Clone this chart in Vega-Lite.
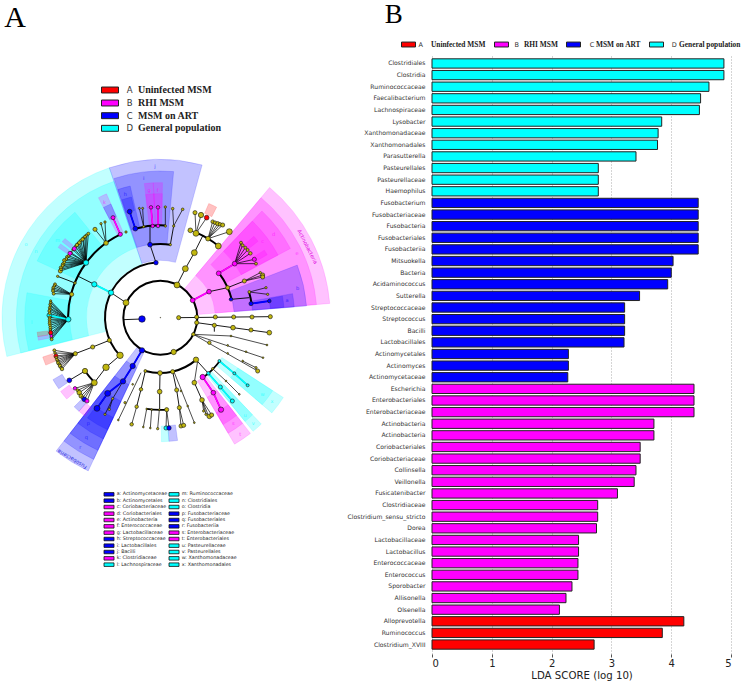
{
"$schema":"https://vega.github.io/schema/vega-lite/v6.json",
"padding":0,"background":"white",
"bounds":"flush","spacing":0,
"config":{"view":{"stroke":null},"concat":{"spacing":0}},
"resolve":{"scale":{"color":"independent","x":"independent","y":"independent"},"legend":{"color":"independent"}},
"datasets":{
"wedges":[
{"g":"D","t0":255.8,"t1":341.2,"r0":170,"r1":475},{"g":"D","t0":255.8,"t1":341.2,"r0":222,"r1":432},
{"g":"D","t0":256,"t1":280.6,"r0":272,"r1":407},{"g":"D","t0":294.7,"t1":321,"r0":275,"r1":407},
{"g":"C","t0":-18.8,"t1":15.3,"r0":172,"r1":475},{"g":"C","t0":-18.4,"t1":5.2,"r0":222,"r1":440},
{"g":"C","t0":-18.4,"t1":-12.9,"r0":277,"r1":405},{"g":"C","t0":-18,"t1":-13.5,"r0":331,"r1":372},
{"g":"B","t0":-6.8,"t1":-3,"r0":277,"r1":405},{"g":"B","t0":-3,"t1":0.9,"r0":277,"r1":405},
{"g":"B","t0":-6.8,"t1":-3,"r0":331,"r1":372},{"g":"B","t0":-3,"t1":0.9,"r0":331,"r1":372},
{"g":"B","t0":-27.3,"t1":-23.5,"r0":277,"r1":405},{"g":"C","t0":-27.3,"t1":-23.5,"r0":331,"r1":372},
{"g":"B","t0":40,"t1":85.2,"r0":112,"r1":510},{"g":"B","t0":40,"t1":85.2,"r0":165,"r1":470},
{"g":"B","t0":43.6,"t1":62,"r0":220,"r1":442},{"g":"B","t0":43.6,"t1":62,"r0":275,"r1":400},
{"g":"B","t0":49,"t1":52,"r0":331,"r1":372},{"g":"B","t0":57,"t1":59.5,"r0":331,"r1":372},
{"g":"C","t0":69,"t1":85.4,"r0":222,"r1":440},{"g":"C","t0":79.7,"t1":85.4,"r0":277,"r1":403},{"g":"C","t0":80,"t1":85.2,"r0":331,"r1":372},
{"g":"C","t0":205.2,"t1":218,"r0":112,"r1":508},{"g":"C","t0":205.2,"t1":218,"r0":165,"r1":470},{"g":"C","t0":205.2,"t1":218,"r0":222,"r1":440},{"g":"C","t0":205.2,"t1":218,"r0":277,"r1":402},{"g":"C","t0":205.2,"t1":216,"r0":331,"r1":372},
{"g":"B","t0":142.1,"t1":149.6,"r0":220,"r1":440},{"g":"B","t0":142.1,"t1":149.6,"r0":277,"r1":402},{"g":"B","t0":142.1,"t1":149.6,"r0":331,"r1":372},
{"g":"D","t0":136.5,"t1":140.8,"r0":220,"r1":440},{"g":"D","t0":136.5,"t1":140.8,"r0":277,"r1":402},
{"g":"D","t0":123,"t1":130.5,"r0":220,"r1":440},{"g":"D","t0":123,"t1":130.5,"r0":277,"r1":402},
{"g":"A","t0":23,"t1":27,"r0":340,"r1":372},{"g":"A","t0":247.5,"t1":251.5,"r0":340,"r1":372},
{"g":"C","t0":235,"t1":240,"r0":340,"r1":372},{"g":"B","t0":229,"t1":233.5,"r0":340,"r1":372},
{"g":"C","t0":221,"t1":224,"r0":340,"r1":372},{"g":"B","t0":217.5,"t1":221,"r0":340,"r1":372},
{"g":"C","t0":172,"t1":176,"r0":325,"r1":372},{"g":"D","t0":176,"t1":179.5,"r0":325,"r1":372},
{"g":"A","t0":261.2,"t1":263.3,"r0":340,"r1":372},{"g":"B","t0":259.5,"t1":261.2,"r0":340,"r1":372},
{"g":"B","t0":304.5,"t1":306.5,"r0":340,"r1":372},{"g":"B","t0":307.7,"t1":309.7,"r0":340,"r1":372}
],
"rings":[
{"t0":0,"t1":360,"r0":108,"r1":114},
{"t0":227.4,"t1":355.5,"r0":163,"r1":169},{"t0":139.7,"t1":195.7,"r0":163,"r1":169},
{"t0":-8,"t1":8,"r0":218,"r1":224},{"t0":52.8,"t1":75.5,"r0":218,"r1":224},{"t0":126.3,"t1":144.5,"r0":218,"r1":223},
{"t0":269,"t1":334.4,"r0":274,"r1":280},{"t0":-15.7,"t1":3.1,"r0":274,"r1":280},{"t0":22.9,"t1":39,"r0":274,"r1":280},
{"t0":225.4,"t1":234.7,"r0":274,"r1":280},{"t0":73.9,"t1":81.2,"r0":274,"r1":280},{"t0":176,"t1":188.5,"r0":274,"r1":279}
],
"edges":[
{"x":367,"y":746,"x2":423,"y2":744,"k":"mid","g":"N"},
{"x":330,"y":665,"x2":375,"y2":695,"k":"mid","g":"N"},
{"x":330,"y":665,"x2":280,"y2":640,"k":"thick","g":"D"},
{"x":280,"y":640,"x2":232,"y2":616,"k":"mid","g":"N"},
{"x":222,"y":636,"x2":170,"y2":616,"k":"mid","g":"N"},
{"x":202,"y":745,"x2":145,"y2":733,"k":"thick","g":"D"},
{"x":202,"y":745,"x2":149,"y2":690,"k":"thin","g":"N"},{"x":202,"y":745,"x2":147,"y2":700,"k":"thin","g":"N"},{"x":202,"y":745,"x2":146,"y2":710,"k":"thin","g":"N"},{"x":202,"y":745,"x2":145,"y2":720,"k":"thin","g":"N"},{"x":202,"y":745,"x2":146,"y2":745,"k":"thin","g":"N"},{"x":202,"y":745,"x2":146,"y2":757,"k":"thin","g":"N"},{"x":202,"y":745,"x2":148,"y2":770,"k":"thin","g":"N"},{"x":202,"y":745,"x2":149,"y2":785,"k":"thin","g":"N"},{"x":202,"y":745,"x2":151,"y2":795,"k":"thin","g":"N"},{"x":202,"y":745,"x2":152,"y2":805,"k":"thin","g":"N"},
{"x":202,"y":745,"x2":149,"y2":695,"k":"thin","g":"N"},{"x":202,"y":745,"x2":148,"y2":705,"k":"thin","g":"N"},{"x":202,"y":745,"x2":147,"y2":715,"k":"thin","g":"N"},{"x":202,"y":745,"x2":146,"y2":727,"k":"thin","g":"N"},{"x":202,"y":745,"x2":146,"y2":739,"k":"thin","g":"N"},{"x":202,"y":745,"x2":146,"y2":751,"k":"thin","g":"N"},{"x":202,"y":745,"x2":147,"y2":763,"k":"thin","g":"N"},{"x":202,"y":745,"x2":148,"y2":777,"k":"thin","g":"N"},{"x":202,"y":745,"x2":150,"y2":790,"k":"thin","g":"N"},{"x":202,"y":745,"x2":151,"y2":800,"k":"thin","g":"N"},
{"x":212,"y":670,"x2":162,"y2":640,"k":"thin","g":"N"},{"x":212,"y":670,"x2":157,"y2":650,"k":"thin","g":"N"},{"x":212,"y":670,"x2":156,"y2":660,"k":"thin","g":"N"},{"x":212,"y":670,"x2":158,"y2":668,"k":"thin","g":"N"},{"x":212,"y":670,"x2":160,"y2":645,"k":"thin","g":"N"},{"x":212,"y":670,"x2":156,"y2":655,"k":"thin","g":"N"},
{"x":255,"y":575,"x2":178,"y2":600,"k":"thin","g":"N"},{"x":255,"y":575,"x2":180,"y2":590,"k":"thin","g":"N"},{"x":255,"y":575,"x2":186,"y2":580,"k":"thin","g":"N"},{"x":255,"y":575,"x2":190,"y2":568,"k":"thin","g":"N"},{"x":255,"y":575,"x2":198,"y2":558,"k":"thin","g":"N"},{"x":255,"y":575,"x2":207,"y2":547,"k":"thin","g":"N"},{"x":255,"y":575,"x2":220,"y2":533,"k":"thin","g":"N"},{"x":255,"y":575,"x2":228,"y2":522,"k":"thin","g":"N"},{"x":255,"y":575,"x2":235,"y2":515,"k":"thin","g":"N"},{"x":255,"y":575,"x2":245,"y2":505,"k":"thin","g":"N"},{"x":255,"y":575,"x2":252,"y2":497,"k":"thin","g":"N"},{"x":255,"y":575,"x2":262,"y2":488,"k":"thin","g":"N"},
{"x":255,"y":575,"x2":180,"y2":595,"k":"thin","g":"N"},{"x":255,"y":575,"x2":185,"y2":584,"k":"thin","g":"N"},{"x":255,"y":575,"x2":190,"y2":574,"k":"thin","g":"N"},{"x":255,"y":575,"x2":196,"y2":564,"k":"thin","g":"N"},{"x":255,"y":575,"x2":203,"y2":554,"k":"thin","g":"N"},{"x":255,"y":575,"x2":210,"y2":545,"k":"thin","g":"N"},{"x":255,"y":575,"x2":216,"y2":536,"k":"thin","g":"N"},{"x":255,"y":575,"x2":224,"y2":526,"k":"thin","g":"N"},{"x":255,"y":575,"x2":231,"y2":518,"k":"thin","g":"N"},{"x":255,"y":575,"x2":239,"y2":509,"k":"thin","g":"N"},{"x":255,"y":575,"x2":247,"y2":501,"k":"thin","g":"N"},{"x":255,"y":575,"x2":256,"y2":493,"k":"thin","g":"N"},
{"x":315,"y":516,"x2":282,"y2":475,"k":"thin","g":"N"},{"x":315,"y":516,"x2":300,"y2":458,"k":"thin","g":"N"},{"x":315,"y":516,"x2":312,"y2":453,"k":"thin","g":"N"},
{"x":358,"y":490,"x2":336,"y2":440,"k":"thick","g":"B"},
{"x":465,"y":575,"x2":447,"y2":521,"k":"mid","g":"N"},
{"x":447,"y":521,"x2":447,"y2":465,"k":"mid","g":"N"},
{"x":508,"y":521,"x2":518,"y2":465,"k":"mid","g":"N"},{"x":518,"y":465,"x2":515,"y2":413,"k":"thin","g":"N"},{"x":518,"y":465,"x2":545,"y2":415,"k":"thin","g":"N"},
{"x":403,"y":473,"x2":386,"y2":422,"k":"thick","g":"C"},
{"x":428,"y":467,"x2":415,"y2":412,"k":"thin","g":"N"},{"x":428,"y":467,"x2":425,"y2":412,"k":"thin","g":"N"},
{"x":455,"y":465,"x2":450,"y2":409,"k":"thick","g":"B"},{"x":471,"y":465,"x2":471,"y2":409,"k":"thick","g":"B"},
{"x":493,"y":465,"x2":493,"y2":408,"k":"thin","g":"N"},
{"x":528,"y":642,"x2":553,"y2":593,"k":"mid","g":"N"},{"x":553,"y":593,"x2":580,"y2":545,"k":"mid","g":"N"},{"x":580,"y":545,"x2":605,"y2":495,"k":"mid","g":"N"},
{"x":585,"y":487,"x2":568,"y2":478,"k":"thin","g":"N"},{"x":585,"y":487,"x2":582,"y2":425,"k":"thin","g":"N"},{"x":585,"y":487,"x2":600,"y2":432,"k":"thin","g":"N"},{"x":585,"y":487,"x2":617,"y2":440,"k":"thin","g":"N"},
{"x":621,"y":503,"x2":635,"y2":452,"k":"thin","g":"N"},{"x":621,"y":503,"x2":650,"y2":458,"k":"thin","g":"N"},{"x":621,"y":503,"x2":665,"y2":462,"k":"thin","g":"N"},{"x":621,"y":503,"x2":685,"y2":482,"k":"thin","g":"N"},{"x":621,"y":503,"x2":642,"y2":455,"k":"thin","g":"N"},{"x":621,"y":503,"x2":657,"y2":460,"k":"thin","g":"N"},
{"x":575,"y":688,"x2":624,"y2":662,"k":"thick","g":"B"},
{"x":624,"y":662,"x2":680,"y2":650,"k":"mid","g":"N"},
{"x":653,"y":607,"x2":701,"y2":578,"k":"thick","g":"B"},
{"x":701,"y":578,"x2":720,"y2":515,"k":"thin","g":"N"},{"x":701,"y":578,"x2":725,"y2":523,"k":"thin","g":"N"},{"x":701,"y":578,"x2":733,"y2":530,"k":"thin","g":"N"},{"x":701,"y":578,"x2":740,"y2":537,"k":"thin","g":"N"},{"x":701,"y":578,"x2":748,"y2":547,"k":"thin","g":"N"},{"x":701,"y":578,"x2":760,"y2":565,"k":"thin","g":"N"},{"x":701,"y":578,"x2":765,"y2":578,"k":"thin","g":"N"},
{"x":680,"y":650,"x2":730,"y2":630,"k":"mid","g":"N"},{"x":730,"y":630,"x2":785,"y2":612,"k":"thin","g":"N"},{"x":730,"y":630,"x2":785,"y2":618,"k":"thin","g":"N"},{"x":730,"y":630,"x2":778,"y2":605,"k":"thin","g":"N"},
{"x":690,"y":685,"x2":745,"y2":680,"k":"mid","g":"N"},
{"x":745,"y":663,"x2":795,"y2":650,"k":"thin","g":"N"},{"x":745,"y":663,"x2":800,"y2":670,"k":"thin","g":"N"},
{"x":750,"y":698,"x2":805,"y2":690,"k":"thick","g":"C"},
{"x":533,"y":740,"x2":808,"y2":737,"k":"mid","g":"N"},
{"x":587,"y":755,"x2":805,"y2":785,"k":"mid","g":"N"},{"x":640,"y":763,"x2":640,"y2":782,"k":"mid","g":"N"},
{"x":577,"y":790,"x2":690,"y2":795,"k":"thin","g":"N"},{"x":690,"y":795,"x2":798,"y2":822,"k":"thin","g":"N"},
{"x":577,"y":790,"x2":786,"y2":860,"k":"thin","g":"N"},
{"x":577,"y":790,"x2":770,"y2":900,"k":"thin","g":"N"},{"x":725,"y":870,"x2":765,"y2":890,"k":"thin","g":"N"},
{"x":585,"y":866,"x2":622,"y2":907,"k":"mid","g":"N"},
{"x":655,"y":870,"x2":700,"y2":907,"k":"thick","g":"D"},{"x":700,"y":907,"x2":740,"y2":943,"k":"thick","g":"D"},
{"x":622,"y":907,"x2":658,"y2":948,"k":"thick","g":"D"},{"x":658,"y":948,"x2":694,"y2":990,"k":"thick","g":"D"},
{"x":635,"y":893,"x2":675,"y2":930,"k":"thin","g":"N"},{"x":675,"y":930,"x2":715,"y2":970,"k":"thin","g":"N"},
{"x":605,"y":918,"x2":637,"y2":965,"k":"thick","g":"B"},{"x":637,"y":965,"x2":660,"y2":1016,"k":"thick","g":"B"},
{"x":590,"y":870,"x2":580,"y2":935,"k":"thin","g":"N"},{"x":580,"y":935,"x2":603,"y2":987,"k":"mid","g":"N"},
{"x":603,"y":987,"x2":608,"y2":1020,"k":"thin","g":"N"},{"x":603,"y":987,"x2":615,"y2":1030,"k":"thin","g":"N"},{"x":603,"y":987,"x2":625,"y2":1040,"k":"thin","g":"N"},{"x":603,"y":987,"x2":632,"y2":1032,"k":"thin","g":"N"},
{"x":515,"y":902,"x2":527,"y2":957,"k":"mid","g":"N"},{"x":527,"y":957,"x2":535,"y2":1010,"k":"mid","g":"N"},{"x":535,"y":1010,"x2":540,"y2":1065,"k":"thin","g":"N"},{"x":535,"y":1010,"x2":548,"y2":1063,"k":"thin","g":"N"},
{"x":477,"y":906,"x2":476,"y2":962,"k":"mid","g":"N"},{"x":476,"y":962,"x2":476,"y2":1014,"k":"mid","g":"N"},
{"x":437,"y":1014,"x2":427,"y2":1068,"k":"thin","g":"N"},{"x":452,"y":1016,"x2":448,"y2":1071,"k":"thin","g":"N"},{"x":475,"y":1016,"x2":470,"y2":1073,"k":"thin","g":"N"},{"x":497,"y":1016,"x2":495,"y2":1071,"k":"thin","g":"N"},{"x":497,"y":1016,"x2":504,"y2":1071,"k":"thin","g":"N"},
{"x":433,"y":900,"x2":420,"y2":955,"k":"mid","g":"N"},{"x":420,"y":955,"x2":407,"y2":1007,"k":"mid","g":"N"},{"x":407,"y":1007,"x2":392,"y2":1060,"k":"thin","g":"N"},
{"x":420,"y":905,"x2":352,"y2":1047,"k":"thin","g":"N"},
{"x":520,"y":905,"x2":580,"y2":1055,"k":"thin","g":"N"},
{"x":423,"y":838,"x2":395,"y2":885,"k":"thick","g":"C"},{"x":395,"y":885,"x2":366,"y2":931,"k":"thick","g":"C"},{"x":366,"y":931,"x2":320,"y2":967,"k":"thick","g":"C"},{"x":320,"y":967,"x2":288,"y2":1012,"k":"thick","g":"C"},
{"x":366,"y":931,"x2":335,"y2":983,"k":"thin","g":"N"},{"x":335,"y":983,"x2":325,"y2":1015,"k":"thin","g":"N"},{"x":335,"y":983,"x2":312,"y2":1030,"k":"thin","g":"N"},
{"x":325,"y":808,"x2":275,"y2":828,"k":"mid","g":"N"},{"x":275,"y":828,"x2":223,"y2":848,"k":"mid","g":"N"},
{"x":223,"y":848,"x2":160,"y2":838,"k":"thin","g":"N"},{"x":223,"y":848,"x2":165,"y2":855,"k":"thin","g":"N"},{"x":223,"y":848,"x2":168,"y2":866,"k":"thin","g":"N"},{"x":223,"y":848,"x2":172,"y2":876,"k":"thin","g":"N"},{"x":223,"y":848,"x2":177,"y2":885,"k":"thin","g":"N"},{"x":223,"y":848,"x2":183,"y2":894,"k":"thin","g":"N"},
{"x":223,"y":848,"x2":162,"y2":846,"k":"thin","g":"N"},{"x":223,"y":848,"x2":166,"y2":860,"k":"thin","g":"N"},{"x":223,"y":848,"x2":170,"y2":871,"k":"thin","g":"N"},{"x":223,"y":848,"x2":175,"y2":880,"k":"thin","g":"N"},{"x":223,"y":848,"x2":180,"y2":890,"k":"thin","g":"N"},
{"x":357,"y":853,"x2":315,"y2":889,"k":"mid","g":"N"},{"x":315,"y":889,"x2":280,"y2":935,"k":"mid","g":"N"},
{"x":252,"y":900,"x2":205,"y2":928,"k":"mid","g":"N"},
{"x":280,"y":935,"x2":222,"y2":952,"k":"thin","g":"N"},{"x":280,"y":935,"x2":235,"y2":965,"k":"thin","g":"N"},{"x":280,"y":935,"x2":240,"y2":975,"k":"thin","g":"N"},{"x":280,"y":935,"x2":250,"y2":985,"k":"thin","g":"N"},{"x":280,"y":935,"x2":258,"y2":990,"k":"thin","g":"N"},{"x":280,"y":935,"x2":230,"y2":958,"k":"thin","g":"N"},{"x":280,"y":935,"x2":245,"y2":980,"k":"thin","g":"N"}
],
"nodes":[
{"x":423,"y":744,"d":22,"g":"C"},{"x":478,"y":740,"d":2,"g":"N"},{"x":375,"y":695,"d":20,"g":"N"},{"x":330,"y":665,"d":18,"g":"D"},{"x":280,"y":640,"d":18,"g":"D"},
{"x":222,"y":636,"d":9,"g":"N"},{"x":170,"y":616,"d":8,"g":"N"},{"x":202,"y":745,"d":18,"g":"D"},{"x":145,"y":733,"d":16,"g":"D"},
{"x":149,"y":690,"d":8,"g":"N"},{"x":149,"y":695,"d":8,"g":"N"},{"x":147,"y":700,"d":8,"g":"N"},{"x":148,"y":705,"d":8,"g":"N"},{"x":146,"y":710,"d":9,"g":"N"},{"x":147,"y":715,"d":9,"g":"N"},{"x":145,"y":720,"d":10,"g":"N"},{"x":146,"y":727,"d":9,"g":"N"},{"x":146,"y":739,"d":9,"g":"N"},{"x":146,"y":745,"d":10,"g":"N"},{"x":146,"y":751,"d":9,"g":"N"},{"x":146,"y":757,"d":10,"g":"N"},{"x":147,"y":763,"d":9,"g":"N"},{"x":148,"y":770,"d":10,"g":"N"},{"x":148,"y":777,"d":9,"g":"N"},{"x":150,"y":790,"d":9,"g":"N"},{"x":151,"y":800,"d":9,"g":"N"},{"x":149,"y":785,"d":14,"g":"A"},{"x":152,"y":805,"d":10,"g":"N"},{"x":151,"y":795,"d":10,"g":"B"},
{"x":212,"y":670,"d":14,"g":"N"},{"x":162,"y":640,"d":10,"g":"N"},{"x":160,"y":645,"d":9,"g":"N"},{"x":157,"y":650,"d":10,"g":"N"},{"x":156,"y":655,"d":9,"g":"N"},{"x":156,"y":660,"d":10,"g":"N"},{"x":158,"y":668,"d":10,"g":"N"},
{"x":255,"y":575,"d":18,"g":"D"},{"x":178,"y":600,"d":14,"g":"N"},{"x":180,"y":590,"d":12,"g":"N"},{"x":186,"y":580,"d":12,"g":"N"},{"x":190,"y":568,"d":12,"g":"N"},{"x":198,"y":558,"d":10,"g":"N"},
{"x":180,"y":595,"d":9,"g":"N"},{"x":185,"y":584,"d":9,"g":"N"},{"x":190,"y":574,"d":9,"g":"N"},{"x":196,"y":564,"d":9,"g":"N"},{"x":203,"y":554,"d":9,"g":"N"},{"x":210,"y":545,"d":9,"g":"N"},{"x":216,"y":536,"d":9,"g":"N"},{"x":224,"y":526,"d":9,"g":"N"},{"x":231,"y":518,"d":9,"g":"N"},{"x":239,"y":509,"d":9,"g":"N"},{"x":247,"y":501,"d":9,"g":"N"},{"x":256,"y":493,"d":9,"g":"N"},
{"x":207,"y":547,"d":14,"g":"B"},{"x":220,"y":533,"d":14,"g":"B"},{"x":228,"y":522,"d":12,"g":"N"},{"x":235,"y":515,"d":12,"g":"N"},{"x":245,"y":505,"d":12,"g":"N"},{"x":252,"y":497,"d":10,"g":"N"},{"x":262,"y":488,"d":10,"g":"N"},
{"x":315,"y":516,"d":16,"g":"N"},{"x":282,"y":475,"d":14,"g":"N"},{"x":300,"y":458,"d":8,"g":"N"},{"x":312,"y":453,"d":8,"g":"N"},
{"x":358,"y":490,"d":14,"g":"B"},{"x":336,"y":440,"d":14,"g":"B"},{"x":375,"y":483,"d":8,"g":"N"},
{"x":465,"y":575,"d":15,"g":"C"},{"x":447,"y":521,"d":16,"g":"C"},{"x":508,"y":521,"d":8,"g":"N"},{"x":518,"y":465,"d":8,"g":"N"},{"x":515,"y":413,"d":9,"g":"N"},{"x":545,"y":415,"d":9,"g":"N"},
{"x":403,"y":473,"d":16,"g":"C"},{"x":386,"y":422,"d":16,"g":"C"},{"x":428,"y":467,"d":8,"g":"N"},{"x":415,"y":412,"d":7,"g":"N"},{"x":425,"y":412,"d":7,"g":"N"},
{"x":455,"y":465,"d":12,"g":"B"},{"x":471,"y":465,"d":12,"g":"B"},{"x":450,"y":409,"d":12,"g":"B"},{"x":471,"y":409,"d":12,"g":"B"},{"x":493,"y":465,"d":8,"g":"N"},{"x":493,"y":408,"d":8,"g":"N"},
{"x":528,"y":642,"d":20,"g":"N"},{"x":553,"y":593,"d":20,"g":"N"},{"x":580,"y":545,"d":20,"g":"N"},
{"x":585,"y":487,"d":20,"g":"N"},{"x":621,"y":503,"d":16,"g":"N"},{"x":652,"y":525,"d":20,"g":"N"},
{"x":568,"y":478,"d":16,"g":"N"},{"x":582,"y":425,"d":14,"g":"N"},{"x":600,"y":432,"d":18,"g":"N"},{"x":617,"y":440,"d":16,"g":"A"},
{"x":635,"y":452,"d":12,"g":"N"},{"x":642,"y":455,"d":12,"g":"N"},{"x":650,"y":458,"d":14,"g":"N"},{"x":657,"y":460,"d":12,"g":"N"},{"x":665,"y":462,"d":14,"g":"N"},{"x":685,"y":482,"d":20,"g":"N"},
{"x":575,"y":688,"d":16,"g":"B"},{"x":624,"y":662,"d":16,"g":"B"},{"x":680,"y":650,"d":14,"g":"N"},{"x":653,"y":607,"d":16,"g":"B"},{"x":690,"y":685,"d":12,"g":"C"},{"x":701,"y":578,"d":16,"g":"B"},
{"x":720,"y":515,"d":10,"g":"N"},{"x":725,"y":523,"d":10,"g":"N"},{"x":733,"y":530,"d":10,"g":"N"},{"x":740,"y":537,"d":10,"g":"N"},{"x":748,"y":547,"d":12,"g":"N"},{"x":760,"y":565,"d":14,"g":"B"},{"x":765,"y":578,"d":10,"g":"N"},
{"x":730,"y":630,"d":14,"g":"N"},{"x":785,"y":612,"d":14,"g":"N"},{"x":785,"y":618,"d":14,"g":"N"},{"x":778,"y":605,"d":8,"g":"N"},
{"x":745,"y":663,"d":10,"g":"N"},{"x":750,"y":698,"d":14,"g":"C"},{"x":795,"y":650,"d":8,"g":"N"},{"x":800,"y":670,"d":8,"g":"N"},{"x":805,"y":690,"d":12,"g":"C"},
{"x":533,"y":740,"d":14,"g":"N"},{"x":587,"y":738,"d":14,"g":"N"},{"x":643,"y":738,"d":14,"g":"N"},{"x":698,"y":738,"d":14,"g":"N"},{"x":753,"y":738,"d":14,"g":"N"},{"x":808,"y":737,"d":14,"g":"N"},
{"x":587,"y":755,"d":14,"g":"N"},{"x":640,"y":763,"d":14,"g":"N"},{"x":696,"y":770,"d":16,"g":"N"},{"x":750,"y":777,"d":14,"g":"N"},{"x":805,"y":785,"d":16,"g":"N"},
{"x":577,"y":790,"d":12,"g":"N"},{"x":625,"y":815,"d":12,"g":"N"},{"x":690,"y":795,"d":6,"g":"N"},{"x":798,"y":822,"d":6,"g":"N"},{"x":680,"y":823,"d":6,"g":"N"},{"x":735,"y":842,"d":6,"g":"N"},{"x":786,"y":860,"d":6,"g":"N"},{"x":680,"y":847,"d":6,"g":"N"},{"x":725,"y":870,"d":6,"g":"N"},{"x":770,"y":900,"d":14,"g":"N"},{"x":765,"y":890,"d":8,"g":"N"},
{"x":518,"y":843,"d":18,"g":"N"},{"x":515,"y":902,"d":14,"g":"N"},{"x":477,"y":906,"d":16,"g":"N"},{"x":433,"y":900,"d":10,"g":"N"},{"x":585,"y":866,"d":18,"g":"N"},
{"x":622,"y":907,"d":12,"g":"D"},{"x":635,"y":893,"d":8,"g":"N"},{"x":655,"y":870,"d":10,"g":"D"},{"x":700,"y":907,"d":10,"g":"D"},{"x":740,"y":943,"d":10,"g":"D"},{"x":658,"y":948,"d":14,"g":"D"},{"x":694,"y":990,"d":14,"g":"D"},{"x":675,"y":930,"d":6,"g":"N"},{"x":715,"y":970,"d":6,"g":"N"},
{"x":605,"y":918,"d":18,"g":"B"},{"x":637,"y":965,"d":16,"g":"B"},{"x":660,"y":1016,"d":18,"g":"B"},
{"x":580,"y":935,"d":16,"g":"N"},{"x":603,"y":987,"d":16,"g":"N"},{"x":608,"y":1020,"d":8,"g":"N"},{"x":615,"y":1030,"d":8,"g":"N"},{"x":625,"y":1036,"d":16,"g":"N"},{"x":632,"y":1032,"d":14,"g":"N"},
{"x":527,"y":957,"d":14,"g":"N"},{"x":535,"y":1010,"d":14,"g":"N"},{"x":540,"y":1065,"d":14,"g":"N"},{"x":548,"y":1063,"d":14,"g":"N"},
{"x":476,"y":962,"d":16,"g":"N"},{"x":437,"y":1014,"d":6,"g":"N"},{"x":452,"y":1016,"d":6,"g":"N"},{"x":475,"y":1016,"d":6,"g":"N"},{"x":497,"y":1016,"d":14,"g":"N"},{"x":427,"y":1068,"d":6,"g":"N"},{"x":448,"y":1071,"d":6,"g":"N"},{"x":470,"y":1073,"d":8,"g":"N"},{"x":495,"y":1071,"d":14,"g":"D"},{"x":504,"y":1071,"d":15,"g":"C"},
{"x":420,"y":955,"d":12,"g":"N"},{"x":407,"y":1007,"d":12,"g":"N"},{"x":392,"y":1060,"d":12,"g":"N"},{"x":395,"y":940,"d":6,"g":"N"},{"x":372,"y":995,"d":8,"g":"N"},{"x":352,"y":1047,"d":6,"g":"N"},{"x":540,"y":960,"d":6,"g":"N"},{"x":560,"y":1005,"d":6,"g":"N"},{"x":580,"y":1055,"d":6,"g":"N"},
{"x":423,"y":838,"d":18,"g":"C"},{"x":395,"y":885,"d":18,"g":"C"},{"x":366,"y":931,"d":18,"g":"C"},{"x":320,"y":967,"d":20,"g":"C"},{"x":288,"y":1012,"d":20,"g":"C"},{"x":335,"y":983,"d":8,"g":"N"},{"x":325,"y":1015,"d":8,"g":"N"},{"x":312,"y":1030,"d":8,"g":"N"},
{"x":325,"y":808,"d":14,"g":"N"},{"x":275,"y":828,"d":14,"g":"N"},{"x":223,"y":848,"d":14,"g":"N"},{"x":160,"y":838,"d":10,"g":"N"},{"x":162,"y":846,"d":9,"g":"N"},{"x":165,"y":855,"d":14,"g":"A"},{"x":166,"y":860,"d":9,"g":"N"},{"x":168,"y":866,"d":10,"g":"N"},{"x":170,"y":871,"d":9,"g":"N"},{"x":172,"y":876,"d":12,"g":"N"},{"x":175,"y":880,"d":9,"g":"N"},{"x":177,"y":885,"d":12,"g":"N"},{"x":180,"y":890,"d":9,"g":"N"},{"x":183,"y":894,"d":12,"g":"N"},
{"x":357,"y":853,"d":22,"g":"N"},{"x":315,"y":889,"d":22,"g":"N"},{"x":280,"y":935,"d":20,"g":"N"},{"x":252,"y":900,"d":18,"g":"N"},{"x":205,"y":928,"d":16,"g":"C"},{"x":222,"y":952,"d":12,"g":"B"},{"x":230,"y":958,"d":10,"g":"N"},{"x":235,"y":965,"d":16,"g":"N"},{"x":240,"y":975,"d":14,"g":"N"},{"x":245,"y":980,"d":10,"g":"N"},{"x":250,"y":985,"d":16,"g":"C"},{"x":258,"y":990,"d":14,"g":"B"}
],
"letters":[
{"x":75,"y":520,"t":"o","g":"D"},{"x":105,"y":540,"t":"n","g":"D"},{"x":170,"y":507,"t":"m","g":"D"},{"x":92,"y":752,"t":"l","g":"D"},
{"x":462,"y":285,"t":"j","g":"C"},{"x":428,"y":320,"t":"i","g":"C"},{"x":373,"y":370,"t":"h","g":"C"},{"x":444,"y":357,"t":"g","g":"B"},{"x":470,"y":357,"t":"f","g":"B"},{"x":310,"y":393,"t":"k","g":"B"},
{"x":888,"y":545,"t":"e","g":"B"},{"x":818,"y":490,"t":"d","g":"B"},{"x":785,"y":510,"t":"c","g":"B"},{"x":890,"y":652,"t":"b","g":"C"},{"x":858,"y":687,"t":"a","g":"C"},
{"x":238,"y":1127,"t":"r","g":"C"},{"x":256,"y":1097,"t":"q","g":"C"},{"x":262,"y":1055,"t":"p","g":"C"},
{"x":697,"y":1055,"t":"s","g":"B"},{"x":718,"y":1088,"t":"t","g":"B"},{"x":732,"y":1033,"t":"u","g":"D"},{"x":757,"y":1057,"t":"v","g":"D"},{"x":785,"y":970,"t":"w","g":"D"},{"x":813,"y":990,"t":"x","g":"D"}
],
"keys":[
{"x":324,"tx":347,"y":1270,"t":"a: Actinomycetaceae","g":"C"},{"x":324,"tx":347,"y":1289,"t":"b: Actinomycetales","g":"C"},{"x":324,"tx":347,"y":1308,"t":"c: Coriobacteriaceae","g":"B"},{"x":324,"tx":347,"y":1328,"t":"d: Coriobacteriales","g":"B"},{"x":324,"tx":347,"y":1347,"t":"e: Actinobacteria","g":"B"},{"x":324,"tx":347,"y":1366,"t":"f: Enterococcaceae","g":"B"},{"x":324,"tx":347,"y":1385,"t":"g: Lactobacillaceae","g":"B"},{"x":324,"tx":347,"y":1404,"t":"h: Streptococcaceae","g":"C"},{"x":324,"tx":347,"y":1424,"t":"i: Lactobacillales","g":"C"},{"x":324,"tx":347,"y":1443,"t":"j: Bacilli","g":"C"},{"x":324,"tx":347,"y":1462,"t":"k: Clostridiaceae","g":"B"},{"x":324,"tx":347,"y":1481,"t":"l: Lachnospiraceae","g":"D"},
{"x":519,"tx":542,"y":1270,"t":"m: Ruminococcaceae","g":"D"},{"x":519,"tx":542,"y":1289,"t":"n: Clostridiales","g":"D"},{"x":519,"tx":542,"y":1308,"t":"o: Clostridia","g":"D"},{"x":519,"tx":542,"y":1328,"t":"p: Fusobacteriaceae","g":"C"},{"x":519,"tx":542,"y":1347,"t":"q: Fusobacteriales","g":"C"},{"x":519,"tx":542,"y":1366,"t":"r: Fusobacteriia","g":"C"},{"x":519,"tx":542,"y":1385,"t":"s: Enterobacteriaceae","g":"B"},{"x":519,"tx":542,"y":1404,"t":"t: Enterobacteriales","g":"B"},{"x":519,"tx":542,"y":1424,"t":"u: Pasteurellaceae","g":"D"},{"x":519,"tx":542,"y":1443,"t":"v: Pasteurellales","g":"D"},{"x":519,"tx":542,"y":1462,"t":"w: Xanthomonadaceae","g":"D"},{"x":519,"tx":542,"y":1481,"t":"x: Xanthomonadales","g":"D"}
],
"groupkey":[
{"x":327,"y":57,"lx":386,"tx":411,"letter":"A","t":"Uninfected MSM","g":"A"},{"x":327,"y":96,"lx":386,"tx":411,"letter":"B","t":"RHI MSM","g":"B"},{"x":327,"y":134,"lx":386,"tx":411,"letter":"C","t":"MSM on ART","g":"C"},{"x":327,"y":172,"lx":386,"tx":411,"letter":"D","t":"General population","g":"D"}
],
"bars":[
{"name":"Clostridiales","score":4.88,"g":"D"},{"name":"Clostridia","score":4.88,"g":"D"},{"name":"Ruminococcaceae","score":4.63,"g":"D"},{"name":"Faecalibacterium","score":4.49,"g":"D"},{"name":"Lachnospiraceae","score":4.47,"g":"D"},{"name":"Lysobacter","score":3.84,"g":"D"},{"name":"Xanthomonadaceae","score":3.78,"g":"D"},{"name":"Xanthomonadales","score":3.77,"g":"D"},{"name":"Parasutterella","score":3.41,"g":"D"},{"name":"Pasteurellales","score":2.78,"g":"D"},{"name":"Pasteurellaceae","score":2.78,"g":"D"},{"name":"Haemophilus","score":2.78,"g":"D"},
{"name":"Fusobacterium","score":4.45,"g":"C"},{"name":"Fusobacteriaceae","score":4.45,"g":"C"},{"name":"Fusobacteria","score":4.45,"g":"C"},{"name":"Fusobacteriales","score":4.45,"g":"C"},{"name":"Fusobacteriia","score":4.45,"g":"C"},{"name":"Mitsuokella","score":4.03,"g":"C"},{"name":"Bacteria","score":4.0,"g":"C"},{"name":"Acidaminococcus","score":3.94,"g":"C"},{"name":"Sutterella","score":3.47,"g":"C"},{"name":"Streptococcaceae","score":3.22,"g":"C"},{"name":"Streptococcus","score":3.22,"g":"C"},{"name":"Bacilli","score":3.22,"g":"C"},{"name":"Lactobacillales","score":3.21,"g":"C"},{"name":"Actinomycetales","score":2.28,"g":"C"},{"name":"Actinomyces","score":2.28,"g":"C"},{"name":"Actinomycetaceae","score":2.27,"g":"C"},
{"name":"Escherichia","score":4.38,"g":"B"},{"name":"Enterobacteriales","score":4.38,"g":"B"},{"name":"Enterobacteriaceae","score":4.38,"g":"B"},{"name":"Actinobacteria","score":3.71,"g":"B"},{"name":"Actinobacteria ","score":3.71,"g":"B"},{"name":"Coriobacteriales","score":3.48,"g":"B"},{"name":"Coriobacteriaceae","score":3.48,"g":"B"},{"name":"Collinsella","score":3.41,"g":"B"},{"name":"Veillonella","score":3.38,"g":"B"},{"name":"Fusicatenibacter","score":3.1,"g":"B"},{"name":"Clostridiaceae","score":2.77,"g":"B"},{"name":"Clostridium_sensu_stricto","score":2.77,"g":"B"},{"name":"Dorea","score":2.75,"g":"B"},{"name":"Lactobacillaceae","score":2.45,"g":"B"},{"name":"Lactobacillus","score":2.45,"g":"B"},{"name":"Enterococcaceae","score":2.44,"g":"B"},{"name":"Enterococcus","score":2.44,"g":"B"},{"name":"Sporobacter","score":2.34,"g":"B"},{"name":"Allisonella","score":2.24,"g":"B"},{"name":"Olsenella","score":2.13,"g":"B"},
{"name":"Alloprevotella","score":4.21,"g":"A"},{"name":"Ruminococcus","score":3.85,"g":"A"},{"name":"Clostridium_XVIII","score":2.71,"g":"A"}
]
},
"hconcat":[
{"width":431,"height":683,
"layer":[
{"data":{"name":"wedges"},"mark":{"type":"arc","fillOpacity":0.24,"strokeOpacity":0.25,"strokeWidth":0.6},
"encoding":{
"x":{"datum":478,"type":"quantitative","scale":{"domain":[0,1293],"nice":false,"zero":false},"axis":null},
"y":{"datum":740,"type":"quantitative","scale":{"domain":[-210,1839],"nice":false,"zero":false,"reverse":true},"axis":null},
"theta":{"field":"t0","type":"quantitative","scale":{"domain":[0,360],"range":[0,6.283185]}},"theta2":{"field":"t1"},
"radius":{"field":"r0","type":"quantitative","scale":{"type":"linear","domain":[0,1000],"range":[0,333.33],"zero":true}},"radius2":{"field":"r1"},
"color":{"field":"g","type":"nominal","scale":{"domain":["A","B","C","D","N"],"range":["#ff0000","#ff00ff","#0000ff","#00ffff","#c1b70f"]},"legend":null},
"stroke":{"field":"g","type":"nominal","scale":{"domain":["A","B","C","D","N"],"range":["#ff0000","#ff00ff","#0000ff","#00ffff","#c1b70f"]},"legend":null}
}},
{"data":{"name":"letters"},"mark":{"type":"text","fontSize":5,"font":"DejaVu Sans","opacity":0.6},
"encoding":{"x":{"field":"x","type":"quantitative","axis":null},"y":{"field":"y","type":"quantitative","axis":null},"text":{"field":"t"},"color":{"field":"g","type":"nominal","legend":null}}},
{"data":{"values":[{"x":920,"y":527,"t":"Actinobacteria"}]},"mark":{"type":"text","fontSize":5.2,"font":"DejaVu Sans","angle":63,"color":"#e000e0"},
"encoding":{"x":{"field":"x","type":"quantitative","axis":null},"y":{"field":"y","type":"quantitative","axis":null},"text":{"field":"t"}}},
{"data":{"values":[{"x":213,"y":1165,"t":"Fusobacteria"}]},"mark":{"type":"text","fontSize":5.2,"font":"DejaVu Sans","angle":211,"color":"#3030e0"},
"encoding":{"x":{"field":"x","type":"quantitative","axis":null},"y":{"field":"y","type":"quantitative","axis":null},"text":{"field":"t"}}},
{"data":{"name":"rings"},"mark":{"type":"arc","color":"black"},
"encoding":{
"x":{"datum":478,"type":"quantitative","axis":null},"y":{"datum":740,"type":"quantitative","axis":null},
"theta":{"field":"t0","type":"quantitative"},"theta2":{"field":"t1"},
"radius":{"field":"r0","type":"quantitative"},"radius2":{"field":"r1"}}},
{"data":{"name":"edges"},"mark":{"type":"rule","color":"black"},
"encoding":{"x":{"field":"x","type":"quantitative","axis":null},"x2":{"field":"x2"},"y":{"field":"y","type":"quantitative","axis":null},"y2":{"field":"y2"},
"strokeWidth":{"field":"k","type":"nominal","scale":{"domain":["thin","mid","thick"],"range":[0.7,1.1,3.4]},"legend":null}}},
{"data":{"name":"edges"},"transform":[{"filter":"datum.k === 'thick'"}],"mark":{"type":"rule","strokeWidth":1.8},
"encoding":{"x":{"field":"x","type":"quantitative","axis":null},"x2":{"field":"x2"},"y":{"field":"y","type":"quantitative","axis":null},"y2":{"field":"y2"},
"color":{"field":"g","type":"nominal","legend":null}}},
{"data":{"name":"nodes"},"mark":{"type":"point","filled":true,"opacity":1,"stroke":"#111","strokeWidth":0.6,"shape":"circle"},
"encoding":{"x":{"field":"x","type":"quantitative","axis":null},"y":{"field":"y","type":"quantitative","axis":null},
"size":{"field":"d","type":"quantitative","scale":{"type":"pow","exponent":2,"domain":[0,22],"range":[0,42]},"legend":null},
"color":{"field":"g","type":"nominal","legend":null}}},
{"data":{"name":"keys"},"mark":{"type":"point","filled":true,"opacity":1,"stroke":"#111","strokeWidth":0.8,"size":100,"shape":"M-1,-0.35H1V0.35H-1Z"},
"encoding":{"x":{"field":"x","type":"quantitative","axis":null},"y":{"field":"y","type":"quantitative","axis":null},
"color":{"field":"g","type":"nominal","legend":null}}},
{"data":{"name":"keys"},"mark":{"type":"text","align":"left","fontSize":4.8,"font":"DejaVu Sans","color":"#222"},
"encoding":{"x":{"field":"tx","type":"quantitative","axis":null},"y":{"field":"y","type":"quantitative","axis":null},"text":{"field":"t"}}},
{"data":{"name":"groupkey"},"mark":{"type":"point","filled":true,"opacity":1,"stroke":"#222","strokeWidth":1,"size":289,"shape":"M-1,-0.35H1V0.35H-1Z"},
"encoding":{"x":{"field":"x","type":"quantitative","axis":null},"y":{"field":"y","type":"quantitative","axis":null},
"color":{"field":"g","type":"nominal","legend":null}}},
{"data":{"name":"groupkey"},"mark":{"type":"text","fontSize":8.5,"font":"DejaVu Sans","color":"#333"},
"encoding":{"x":{"field":"lx","type":"quantitative","axis":null},"y":{"field":"y","type":"quantitative","axis":null},"text":{"field":"letter"}}},
{"data":{"name":"groupkey"},"mark":{"type":"text","align":"left","fontSize":10,"font":"Liberation Serif","fontWeight":"bold","color":"#222"},
"encoding":{"x":{"field":"tx","type":"quantitative","axis":null},"y":{"field":"y","type":"quantitative","axis":null},"text":{"field":"t"}}},
{"data":{"values":[{"x":10,"y":-132,"t":"A"}]},"mark":{"type":"text","align":"left","baseline":"alphabetic","fontSize":30,"font":"Liberation Serif","color":"#000"},
"encoding":{"x":{"field":"x","type":"quantitative","axis":null},"y":{"field":"y","type":"quantitative","axis":null},"text":{"field":"t"}}}
]},
{"resolve":{"scale":{"color":"independent","x":"independent","y":"independent"},"legend":{"color":"independent"}},
"spacing":0,"bounds":"flush",
"vconcat":[
{"width":299.1,"height":53,
"layer":[
{"data":{"values":[{"x":1151,"y":-145,"t":"B"}]},"mark":{"type":"text","align":"left","baseline":"alphabetic","fontSize":27,"font":"Liberation Serif","color":"#000"},
"encoding":{"x":{"field":"x","type":"quantitative","axis":null,"scale":{"domain":[1293,2190.3],"nice":false,"zero":false}},"y":{"field":"y","type":"quantitative","axis":null,"scale":{"domain":[-210,-51],"nice":false,"zero":false,"reverse":true}},"text":{"field":"t"}}},
{"data":{"values":[{"x":1259,"y":-78,"t":"A"},{"x":1547,"y":-78,"t":"B"},{"x":1773,"y":-78,"t":"C"},{"x":2020,"y":-78,"t":"D"}]},"mark":{"type":"text","fontSize":6.5,"font":"DejaVu Sans","color":"#333"},
"encoding":{"x":{"field":"x","type":"quantitative","axis":null},"y":{"field":"y","type":"quantitative","axis":null},"text":{"field":"t"}}}
]},
{"width":299.1,"height":600,
"data":{"name":"bars"},
"mark":{"type":"bar","stroke":"#222","strokeWidth":1},
"encoding":{
"y":{"field":"name","type":"nominal","sort":null,"scale":{"paddingInner":0.2,"paddingOuter":0.415},
"axis":{"title":null,"ticks":false,"domain":false,"labelFont":"DejaVu Sans","labelFontSize":6.1,"labelColor":"#333","labelPadding":7,"labelLimit":200,"labelOverlap":false}},
"x":{"field":"score","type":"quantitative","scale":{"domain":[0,5],"nice":false},
"axis":{"title":"LDA SCORE (log 10)","titleFont":"DejaVu Sans","titleFontWeight":"normal","titleFontSize":10.2,"titleColor":"#222","titlePadding":2,"values":[0,1,2,3,4,5],"format":"d","labelFont":"DejaVu Sans","labelFontSize":10,"labelColor":"#222","labelPadding":1.5,"tickColor":"#555","tickSize":3,"domain":false,"grid":true,"gridColor":"#888","gridDash":[1,2],"gridWidth":0.7}},
"color":{"field":"g","type":"nominal","scale":{"domain":["A","B","C","D"],"range":["#ff0000","#ff00ff","#0000ff","#00ffff"]},
"legend":{"orient":"none","legendX":-31,"legendY":-17,"direction":"horizontal","columns":4,"title":null,"symbolType":"M-1,-0.35H1V0.35H-1Z","symbolSize":196,"symbolOpacity":1,"symbolStrokeColor":"#222","symbolStrokeWidth":1,"labelOffset":15,"columnPadding":6,"labelFont":"Liberation Serif","labelFontWeight":"bold","labelFontSize":7.4,"labelColor":"#222","gridAlign":"each","labelExpr":"{'A':'Uninfected MSM','B':'RHI MSM','C':'MSM on ART','D':'General population'}[datum.label]"}}
}}
]}
]
}
